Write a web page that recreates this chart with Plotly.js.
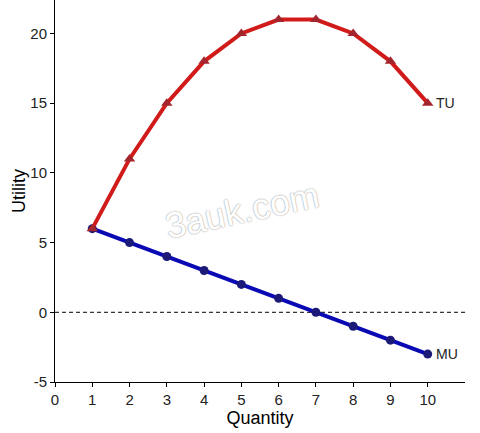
<!DOCTYPE html>
<html>
<head>
<meta charset="utf-8">
<script src="https://cdn.plot.ly/plotly-3.0.1.min.js"></script>
<style>
  html, body { margin: 0; padding: 0; background: #fff; }
  #chart { width: 480px; height: 433px; }
</style>
</head>
<body>
<div id="chart"></div>
<script>
// quantity and utility values
var quantity = [1, 2, 3, 4, 5, 6, 7, 8, 9, 10];
var totalUtility = [6, 11, 15, 18, 20, 21, 21, 20, 18, 15];
var marginalUtility = [6, 5, 4, 3, 2, 1, 0, -1, -2, -3];
var xTicks = [0, 1, 2, 3, 4, 5, 6, 7, 8, 9, 10];
var yTicks = [-5, 0, 5, 10, 15, 20];
var yTickLabels = ['-5', '0', '5', '10', '15', '20'];

var fonte = "Liberation Sans, Arial, sans-serif";

var data = [{
  type: 'scatter',
  mode: 'lines',
  x: [0, 11],
  y: [0, 0],
  line: {color: '#000', width: 1, dash: '4px,3px'},
  hoverinfo: 'skip',
  showlegend: false
}, {
  type: 'scatter',
  mode: 'lines+markers',
  name: 'MU',
  x: quantity,
  y: marginalUtility,
  line: {color: '#0a0ab4', width: 4},
  marker: {symbol: 'circle', size: 9, color: '#1c1a78'}
}, {
  type: 'scatter',
  mode: 'lines+markers',
  name: 'TU',
  x: quantity,
  y: totalUtility,
  line: {color: '#d11a1a', width: 4},
  marker: {symbol: 'triangle-up', size: 10, color: '#a3262e'}
}];

var last = quantity.length - 1;

var layout = {
  width: 480,
  height: 433,
  margin: {l: 55, r: 15, t: 0, b: 51},
  paper_bgcolor: '#fff',
  plot_bgcolor: '#fff',
  showlegend: false,
  font: {family: fonte, color: '#000', size: 15},
  xaxis: {
    range: [0, 11],
    tickvals: xTicks,
    showgrid: false, zeroline: false,
    showline: true, linecolor: '#000', linewidth: 1,
    ticks: 'outside', ticklen: 4, tickcolor: '#000',
    tickfont: {size: 15, family: fonte, color: '#222'},
    title: {text: 'Quantity', font: {size: 18, family: fonte}, standoff: 2}
  },
  yaxis: {
    range: [-5, 22.4],
    tickvals: yTicks,
    ticktext: yTickLabels,
    showgrid: false, zeroline: false,
    showline: true, linecolor: '#000', linewidth: 1,
    ticks: 'outside', ticklen: 4, tickcolor: '#000',
    tickfont: {size: 15, family: fonte, color: '#222'},
    title: {text: 'Utility', font: {size: 18, family: fonte}, standoff: 0}
  },
  annotations: [{
    x: quantity[last], y: totalUtility[last],
    text: 'TU', showarrow: false,
    xanchor: 'left', xshift: 6,
    font: {size: 14, family: fonte, color: '#222'}
  }, {
    x: quantity[last], y: marginalUtility[last],
    text: 'MU', showarrow: false,
    xanchor: 'left', xshift: 6,
    font: {size: 14, family: fonte, color: '#222'}
  }, {
    xref: 'paper', yref: 'paper',
    x: 0.455, y: 0.45,
    text: '3auk.com', showarrow: false,
    textangle: -12,
    font: {size: 36, family: fonte, color: '#ffffff', shadow: '0px 0px 1.5px #777'}
  }]
};

Plotly.newPlot('chart', data, layout, {displayModeBar: false, staticPlot: true});
</script>
</body>
</html>
